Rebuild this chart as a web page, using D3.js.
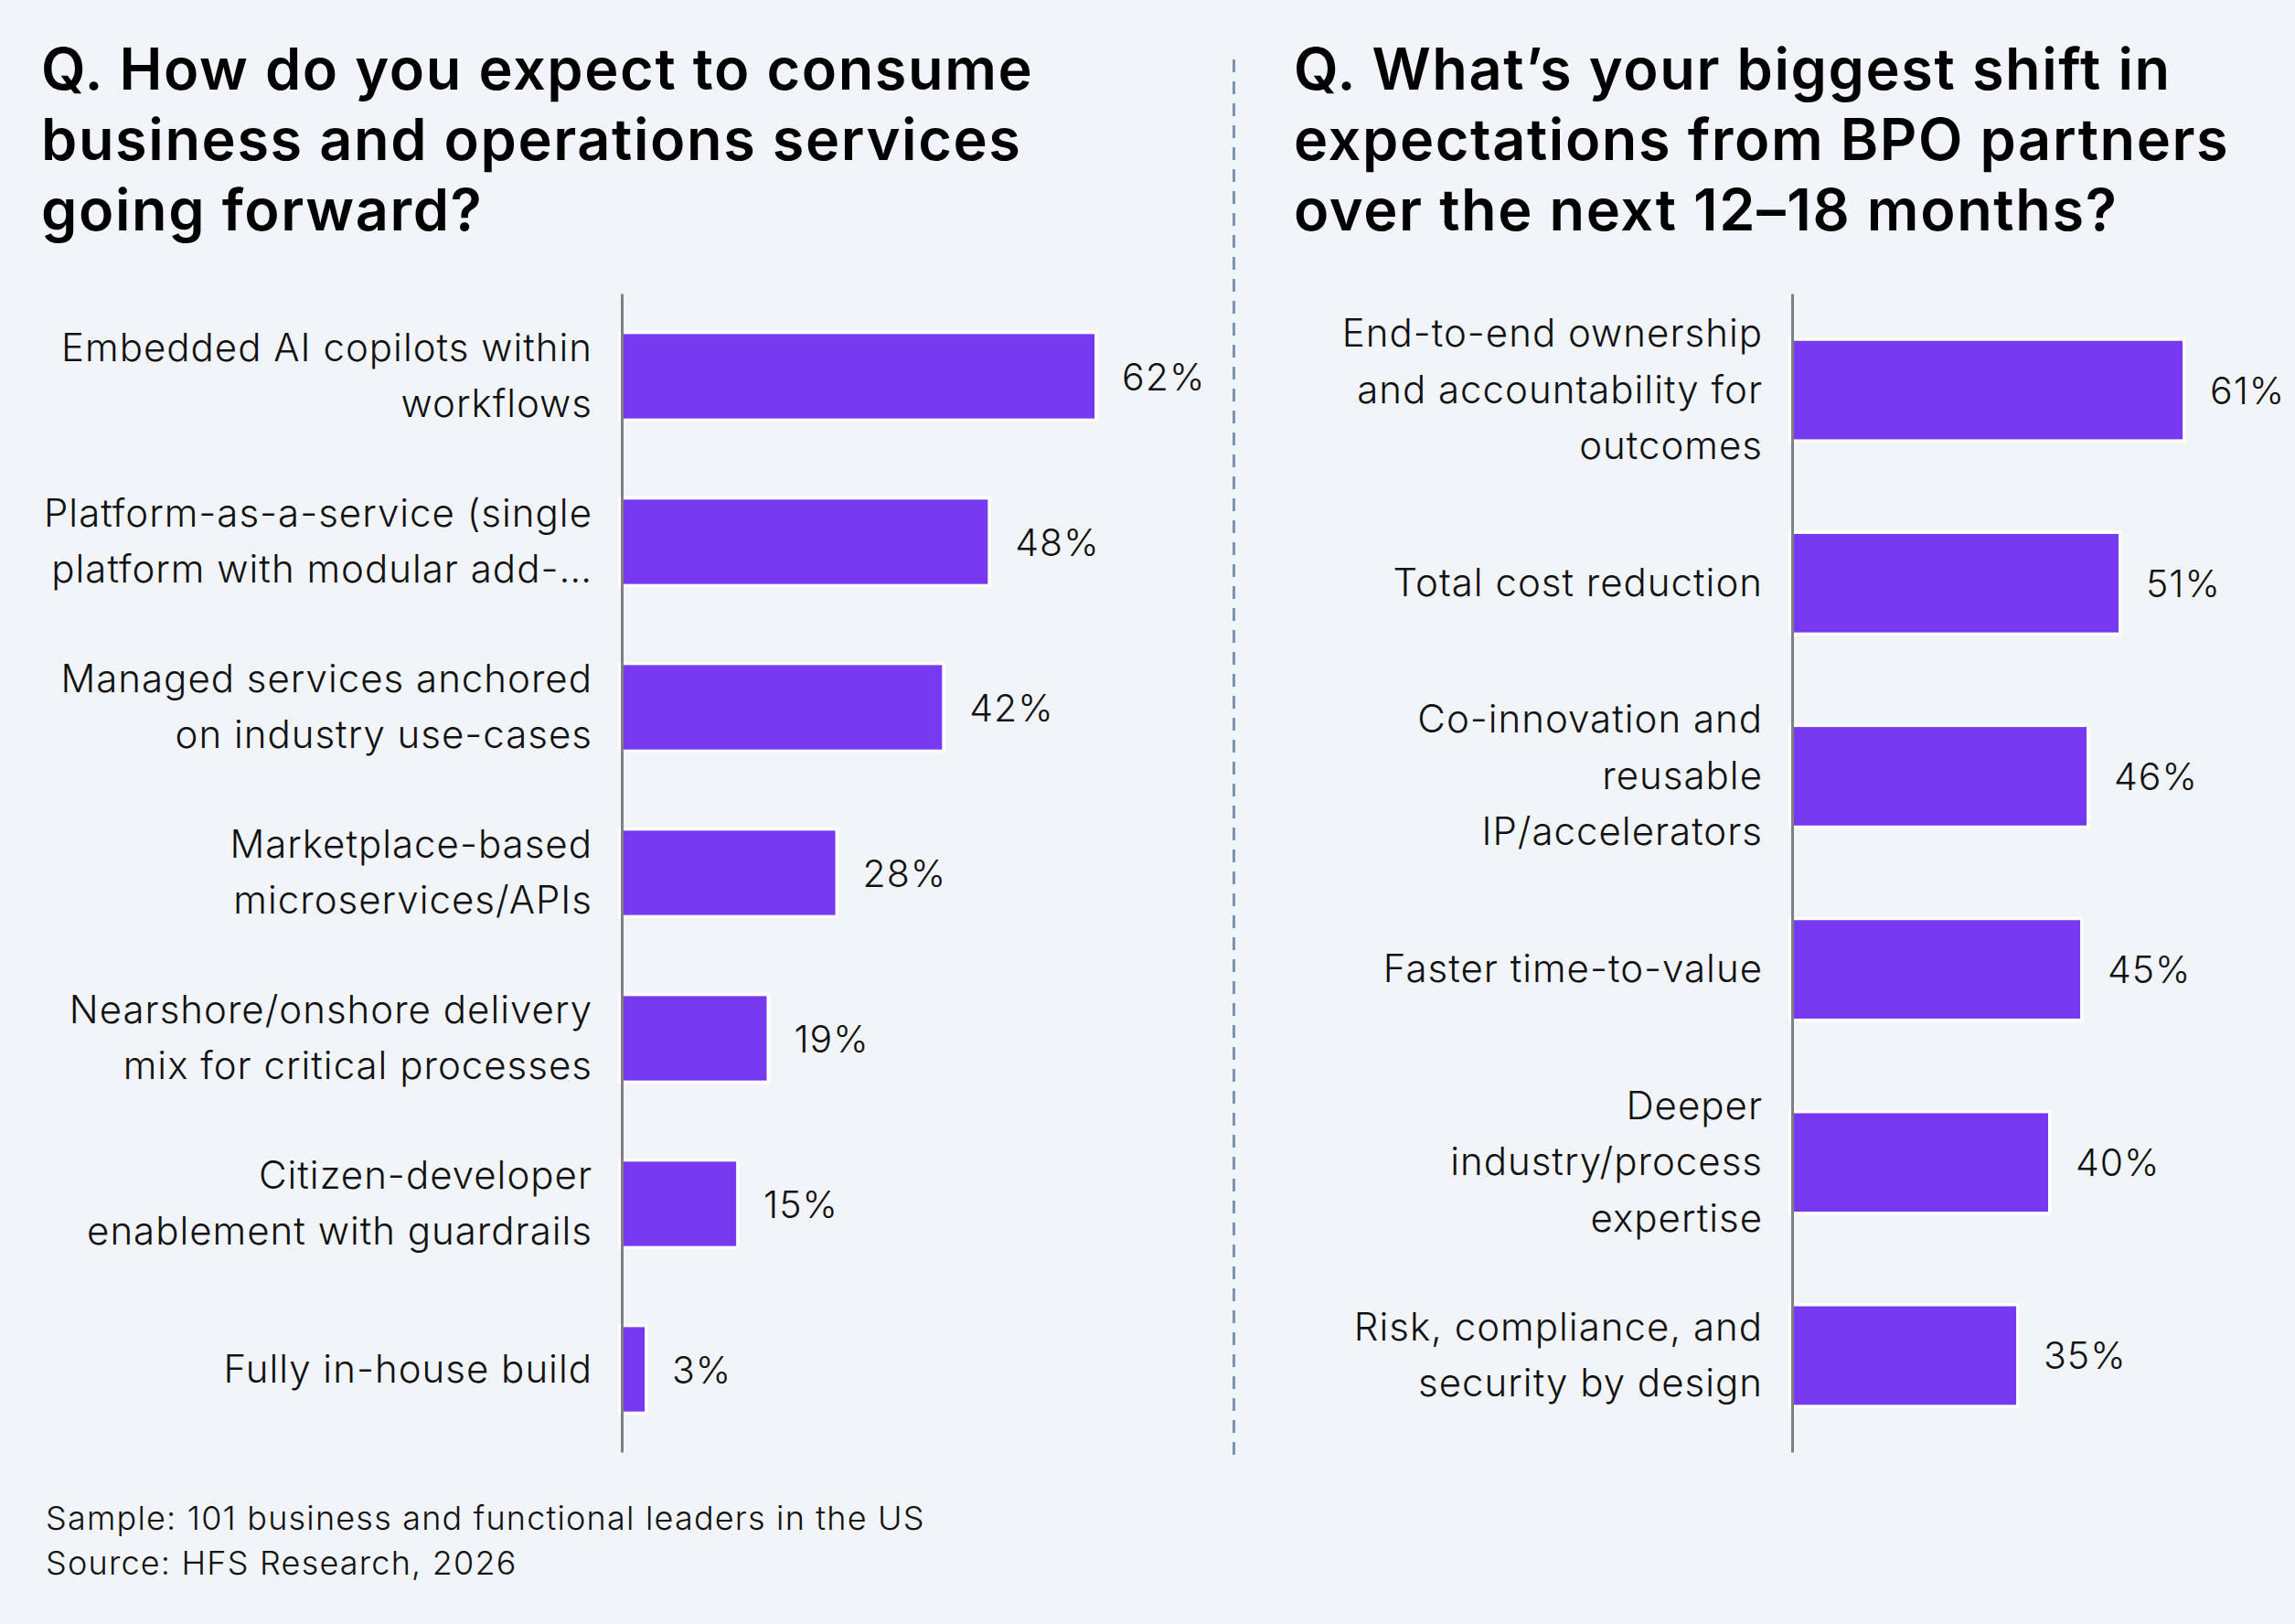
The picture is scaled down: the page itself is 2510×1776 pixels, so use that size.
<!DOCTYPE html>
<html>
<head>
<meta charset="utf-8">
<script src="https://cdn.jsdelivr.net/npm/d3@7"></script>
<style>
  html, body { margin: 0; padding: 0; background: #f1f5f9; }
  svg { display: block; }
  text { font-family: Inter, "Open Sans", sans-serif; }
</style>
</head>
<body>
<div id="chart"></div>
<script>
// left panel data
const leftTitle = ["Q. How do you expect to consume", "business and operations services", "going forward?"];
const leftCategories = [
    ["Embedded AI copilots within", "workflows"],
    ["Platform-as-a-service (single", "platform with modular add-…"],
    ["Managed services anchored", "on industry use-cases"],
    ["Marketplace-based", "microservices/APIs"],
    ["Nearshore/onshore delivery", "mix for critical processes"],
    ["Citizen-developer", "enablement with guardrails"],
    ["Fully in-house build"]
];
const leftValues = [62, 48, 42, 28, 19, 15, 3];

// right panel data
const rightTitle = ["Q. What’s your biggest shift in", "expectations from BPO partners", "over the next 12–18 months?"];
const rightCategories = [
    ["End-to-end ownership", "and accountability for", "outcomes"],
    ["Total cost reduction"],
    ["Co-innovation and", "reusable", "IP/accelerators"],
    ["Faster time-to-value"],
    ["Deeper", "industry/process", "expertise"],
    ["Risk, compliance, and", "security by design"]
];
const rightValues = [61, 51, 46, 45, 40, 35];

const footnotes = ["Sample: 101 business and functional leaders in the US", "Source: HFS Research, 2026"];

const W = 2510, H = 1776;
const barColor = "#7639f0";

let svg = d3.select("#chart").append("svg")
    .attr("width", W)
    .attr("height", H);

svg.append("rect").attr("width", W).attr("height", H).attr("fill", "#f1f5f9");

function drawPanel(cfg) {
    let g = svg.append("g");

    // title
    g.append("text")
        .attr("x", cfg.titleX)
        .attr("y", 98)
        .style("font-size", "63px")
        .style("font-weight", 600)
        .style("letter-spacing", "1.6px")
        .attr("fill", "#000")
        .selectAll("tspan")
        .data(cfg.title)
        .enter().append("tspan")
        .attr("x", cfg.titleX)
        .attr("dy", (d, i) => i === 0 ? 0 : 77)
        .text(d => d);

    let n = cfg.values.length;
    let y = d3.scaleBand()
        .domain(d3.range(n))
        .range([321, 1588])
        .paddingInner(0.49)
        .paddingOuter(0.245);

    let x = d3.scaleLinear()
        .domain([0, 100])
        .range([cfg.axisX, cfg.axisX + cfg.pxPer100]);

    // bars (white halo drawn under the fill)
    g.selectAll(".bar")
        .data(cfg.values)
        .enter().append("rect")
        .attr("class", "bar")
        .attr("x", x(0))
        .attr("y", (d, i) => y(i))
        .attr("width", d => x(d) - x(0))
        .attr("height", y.bandwidth())
        .attr("fill", barColor)
        .attr("stroke", "#ffffff")
        .attr("stroke-width", 7)
        .style("paint-order", "stroke");

    // axis line
    let axis = d3.axisLeft(d3.scaleLinear().range([321, 1588])).ticks(0).tickSize(0).tickSizeOuter(0);
    let ax = g.append("g")
        .attr("transform", "translate(" + cfg.axisX + ",0)")
        .call(axis);
    ax.select(".domain").attr("stroke", "#808080").attr("stroke-width", 3);
    ax.selectAll(".tick").remove();

    // value labels
    g.selectAll(".val")
        .data(cfg.values)
        .enter().append("text")
        .attr("class", "val")
        .attr("x", d => x(d) + 30)
        .attr("y", (d, i) => y(i) + y.bandwidth() / 2 + 15)
        .style("font-size", "41px")
        .style("font-weight", 300)
        .style("letter-spacing", "1px")
        .attr("fill", "#111")
        .text(d => d + "%");

    // category labels
    let lineH = 61.5;
    g.selectAll(".cat")
        .data(cfg.categories)
        .enter().append("text")
        .attr("class", "cat")
        .attr("text-anchor", "end")
        .style("font-size", "42px")
        .style("font-weight", 300)
        .style("letter-spacing", "1px")
        .attr("fill", "#111")
        .each(function (lines, i) {
            let cy = y(i) + y.bandwidth() / 2;
            d3.select(this).selectAll("tspan")
                .data(lines)
                .enter().append("tspan")
                .attr("x", cfg.axisX - 32)
                .attr("y", (d, j) => cy + (j - (lines.length - 1) / 2) * lineH + 14)
                .text(d => d);
        });
}

drawPanel({ title: leftTitle, titleX: 45, categories: leftCategories, values: leftValues, axisX: 680, pxPer100: 834 });
drawPanel({ title: rightTitle, titleX: 1415, categories: rightCategories, values: rightValues, axisX: 1960, pxPer100: 700 });

// dashed divider
svg.append("line")
    .attr("x1", 1349.5).attr("x2", 1349.5)
    .attr("y1", 65).attr("y2", 1595)
    .attr("stroke", "#7b93b5")
    .attr("stroke-width", 3)
    .attr("stroke-dasharray", "14 10");

// footnotes
svg.append("g").selectAll("text")
    .data(footnotes)
    .enter().append("text")
    .attr("x", 50)
    .attr("y", (d, i) => 1673 + i * 49)
    .style("font-size", "36px")
    .style("font-weight", 300)
    .style("letter-spacing", "1.2px")
    .attr("fill", "#111")
    .text(d => d);
</script>
</body>
</html>
